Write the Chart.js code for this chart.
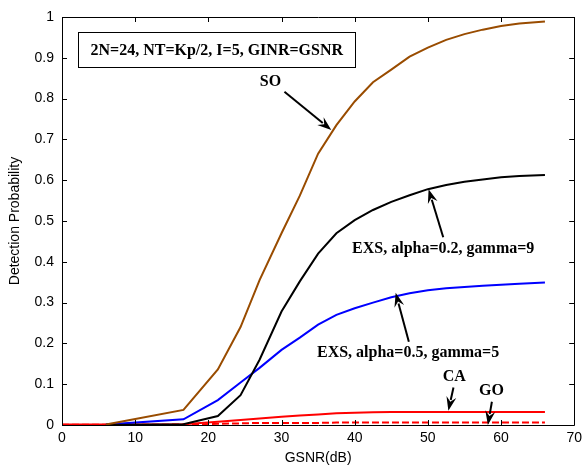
<!DOCTYPE html>
<html>
<head>
<meta charset="utf-8">
<script src="https://cdn.jsdelivr.net/npm/chart.js@4"></script>
<style>
html,body{margin:0;padding:0;background:#fff;}
#wrap{width:587px;height:467px;}
</style>
</head>
<body>
<div id="wrap"><canvas id="c" width="587" height="467"></canvas></div>
<script>
const gsnr = [0, 6, 16.6, 21.3, 24.4, 27, 30, 32.5, 35, 37.5, 40, 42.5, 45, 47.5, 50, 52.5, 55, 57.5, 60, 62.5, 66];
const soValues  = [null, 0.001, 0.037, 0.136, 0.24, 0.355, 0.47, 0.562, 0.665, 0.735, 0.793, 0.84, 0.871, 0.903, 0.925, 0.944, 0.958, 0.969, 0.978, 0.984, 0.989];
const exs02Values = [null, 0.0, 0.002, 0.022, 0.073, 0.16, 0.278, 0.352, 0.42, 0.47, 0.502, 0.527, 0.547, 0.563, 0.578, 0.588, 0.596, 0.602, 0.607, 0.61, 0.613];
const exs05Values = [null, 0.001, 0.014, 0.061, 0.104, 0.14, 0.184, 0.214, 0.246, 0.27, 0.286, 0.3, 0.313, 0.323, 0.33, 0.335, 0.338, 0.341, 0.344, 0.346, 0.349];
const caValues = [0.001, 0.001, 0.002, 0.008, 0.012, 0.016, 0.02, 0.023, 0.026, 0.029, 0.03, 0.031, 0.032, 0.032, 0.032, 0.032, 0.032, 0.032, 0.032, 0.032, 0.032];
const goValues = [0.0005, 0.0005, 0.001, 0.003, 0.004, 0.005, 0.005, 0.005, 0.005, 0.006, 0.006, 0.006, 0.006, 0.006, 0.006, 0.006, 0.006, 0.006, 0.006, 0.006, 0.006];
const xTicks = [0, 10, 20, 30, 40, 50, 60, 70];
const yTicks = [0, 0.1, 0.2, 0.3, 0.4, 0.5, 0.6, 0.7, 0.8, 0.9, 1];
const infoText = '2N=24, NT=Kp/2, I=5, GINR=GSNR';
// annotation: label text, label position (data), arrow start, arrow end (data)
const notes = [
  {text:'SO', lx:28.5, ly:0.84, ax0:30.4, ay0:0.817, ax1:36.8, ay1:0.723},
  {text:'EXS, alpha=0.2, gamma=9', lx:52.1, ly:0.431, ax0:52.1, ay0:0.46, ax1:50.1, ay1:0.578},
  {text:'EXS, alpha=0.5, gamma=5', lx:47.3, ly:0.176, ax0:47.4, ay0:0.204, ax1:45.6, ay1:0.324},
  {text:'CA', lx:53.6, ly:0.118, ax0:53.5, ay0:0.092, ax1:52.8, ay1:0.035},
  {text:'GO', lx:58.7, ly:0.083, ax0:58.75, ay0:0.057, ax1:58.2, ay1:0.0}
];
const infoBox = {x0:2.2, y0:0.963, x1:40.1, y1:0.877};

function pts(vals){ return gsnr.map((x,i)=>({x:x, y:vals[i]})); }

const serif = '"Liberation Serif", "Times New Roman", serif';
const framePlugin = {
  id:'frame',
  afterDatasetsDraw(chart){
    const ctx = chart.ctx, a = chart.chartArea, xs = chart.scales.x, ys = chart.scales.y;
    ctx.save();
    ctx.strokeStyle = '#000'; ctx.lineWidth = 1;
    ctx.beginPath();
    ctx.rect(Math.round(a.left)+0.5, Math.round(a.top)+0.5, Math.round(a.right-a.left), Math.round(a.bottom-a.top));
    ctx.stroke();
    const tl = 5;
    ctx.beginPath();
    xTicks.forEach(v=>{
      const px = Math.round(xs.getPixelForValue(v))+0.5;
      ctx.moveTo(px, a.bottom); ctx.lineTo(px, a.bottom-tl);
      ctx.moveTo(px, a.top); ctx.lineTo(px, a.top+tl);
    });
    yTicks.forEach(v=>{
      const py = Math.round(ys.getPixelForValue(v))+0.5;
      ctx.moveTo(a.left, py); ctx.lineTo(a.left+tl, py);
      ctx.moveTo(a.right, py); ctx.lineTo(a.right-tl, py);
    });
    ctx.stroke();

    // info box
    const bx0 = xs.getPixelForValue(infoBox.x0), bx1 = xs.getPixelForValue(infoBox.x1);
    const by0 = ys.getPixelForValue(infoBox.y0), by1 = ys.getPixelForValue(infoBox.y1);
    ctx.fillStyle = '#fff';
    ctx.fillRect(bx0, by0, bx1-bx0, by1-by0);
    ctx.strokeRect(Math.round(bx0)+0.5, Math.round(by0)+0.5, Math.round(bx1-bx0), Math.round(by1-by0));
    ctx.fillStyle = '#000';
    ctx.font = 'bold 16px ' + serif;
    ctx.textAlign = 'center'; ctx.textBaseline = 'middle';
    ctx.fillText(infoText, (bx0+bx1)/2, (by0+by1)/2+1);

    // notes
    notes.forEach(n=>{
      ctx.fillStyle = '#000';
      ctx.font = 'bold 16px ' + serif;
      ctx.fillText(n.text, xs.getPixelForValue(n.lx), ys.getPixelForValue(n.ly));
      const x0 = xs.getPixelForValue(n.ax0), y0 = ys.getPixelForValue(n.ay0);
      const x1 = xs.getPixelForValue(n.ax1), y1 = ys.getPixelForValue(n.ay1);
      const ang = Math.atan2(y1-y0, x1-x0);
      const hl = 14, hw = 5;
      const bxp = x1 - hl*Math.cos(ang), byp = y1 - hl*Math.sin(ang);
      ctx.strokeStyle = '#000'; ctx.lineWidth = 2;
      ctx.beginPath(); ctx.moveTo(x0,y0); ctx.lineTo(bxp + 3*Math.cos(ang), byp + 3*Math.sin(ang)); ctx.stroke();
      ctx.beginPath();
      ctx.moveTo(x1,y1);
      ctx.lineTo(bxp + hw*Math.sin(ang), byp - hw*Math.cos(ang));
      ctx.lineTo(bxp + 0.35*hl*Math.cos(ang), byp + 0.35*hl*Math.sin(ang));
      ctx.lineTo(bxp - hw*Math.sin(ang), byp + hw*Math.cos(ang));
      ctx.closePath(); ctx.fill();
    });
    ctx.restore();
  }
};

const sans = '"Liberation Sans", Arial, sans-serif';
const common = {fill:false, pointRadius:0, borderWidth:2, tension:0, spanGaps:false};
new Chart(document.getElementById('c'), {
  type:'line',
  data:{
    datasets:[
      Object.assign({label:'SO', data:pts(soValues), borderColor:'#994C00'}, common),
      Object.assign({label:'EXS 0.2', data:pts(exs02Values), borderColor:'#000000'}, common),
      Object.assign({label:'EXS 0.5', data:pts(exs05Values), borderColor:'#0000FF'}, common),
      Object.assign({label:'CA', data:pts(caValues), borderColor:'#FF0000'}, common),
      Object.assign({label:'GO', data:pts(goValues), borderColor:'#FF0000', borderDash:[7,3]}, common)
    ]
  },
  options:{
    responsive:false, animation:false,
    layout:{padding:{left:0, right:12, top:17, bottom:0}},
    plugins:{legend:{display:false}, tooltip:{enabled:false}},
    scales:{
      x:{
        type:'linear', min:0, max:70,
        afterBuildTicks(s){ s.ticks = xTicks.map(v=>({value:v})); },
        afterFit(s){ s.height = 42; },
        grid:{display:false, drawTicks:false},
        border:{display:false},
        ticks:{color:'#000', padding:5, maxRotation:0, font:{family:sans, size:14}, callback:v=>String(v)},
        title:{display:true, text:'GSNR(dB)', color:'#000', padding:{top:0,bottom:0}, font:{family:sans, size:14}}
      },
      y:{
        type:'linear', min:0, max:1,
        afterBuildTicks(s){ s.ticks = yTicks.map(v=>({value:v})); },
        afterFit(s){ s.width = 62; },
        grid:{display:false, drawTicks:false},
        border:{display:false},
        ticks:{color:'#000', padding:8, font:{family:sans, size:14}, callback:v=>String(Math.round(v*10)/10)},
        title:{display:true, text:'Detection Probability', color:'#000', padding:{top:7,bottom:0}, font:{family:sans, size:14}}
      }
    }
  },
  plugins:[framePlugin]
});
</script>
</body>
</html>
